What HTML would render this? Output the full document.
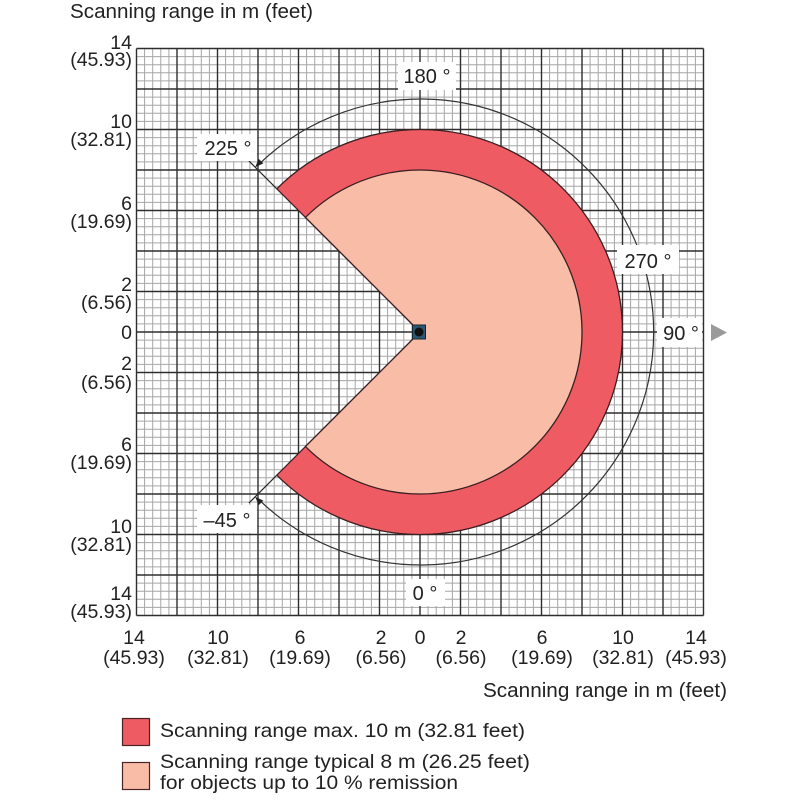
<!DOCTYPE html>
<html><head><meta charset="utf-8"><style>html,body{margin:0;padding:0;background:#fff}svg{display:block}</style></head>
<body>
<svg width="800" height="800" viewBox="0 0 800 800" xmlns="http://www.w3.org/2000/svg" font-family="'Liberation Sans', Arial, sans-serif" fill="#222">
<rect width="800" height="800" fill="#fff"/>
<!-- minor grid -->
<path fill="none" stroke="#a6a6a6" stroke-width="1" d="M144.6 48.5v567M152.7 48.5v567M160.8 48.5v567M168.9 48.5v567M185.1 48.5v567M193.2 48.5v567M201.3 48.5v567M209.4 48.5v567M225.6 48.5v567M233.7 48.5v567M241.8 48.5v567M249.9 48.5v567M266.1 48.5v567M274.2 48.5v567M282.3 48.5v567M290.4 48.5v567M306.6 48.5v567M314.7 48.5v567M322.8 48.5v567M330.9 48.5v567M347.1 48.5v567M355.2 48.5v567M363.3 48.5v567M371.4 48.5v567M387.6 48.5v567M395.7 48.5v567M403.8 48.5v567M411.9 48.5v567M428.1 48.5v567M436.2 48.5v567M444.3 48.5v567M452.4 48.5v567M468.6 48.5v567M476.7 48.5v567M484.8 48.5v567M492.9 48.5v567M509.1 48.5v567M517.2 48.5v567M525.3 48.5v567M533.4 48.5v567M549.6 48.5v567M557.7 48.5v567M565.8 48.5v567M573.9 48.5v567M590.1 48.5v567M598.2 48.5v567M606.3 48.5v567M614.4 48.5v567M630.6 48.5v567M638.7 48.5v567M646.8 48.5v567M654.9 48.5v567M671.1 48.5v567M679.2 48.5v567M687.3 48.5v567M695.4 48.5v567
M136.5 56.6h567M136.5 64.7h567M136.5 72.8h567M136.5 80.9h567M136.5 97.1h567M136.5 105.2h567M136.5 113.3h567M136.5 121.4h567M136.5 137.6h567M136.5 145.7h567M136.5 153.8h567M136.5 161.9h567M136.5 178.1h567M136.5 186.2h567M136.5 194.3h567M136.5 202.4h567M136.5 218.6h567M136.5 226.7h567M136.5 234.8h567M136.5 242.9h567M136.5 259.1h567M136.5 267.2h567M136.5 275.3h567M136.5 283.4h567M136.5 299.6h567M136.5 307.7h567M136.5 315.8h567M136.5 323.9h567M136.5 340.1h567M136.5 348.2h567M136.5 356.3h567M136.5 364.4h567M136.5 380.6h567M136.5 388.7h567M136.5 396.8h567M136.5 404.9h567M136.5 421.1h567M136.5 429.2h567M136.5 437.3h567M136.5 445.4h567M136.5 461.6h567M136.5 469.7h567M136.5 477.8h567M136.5 485.9h567M136.5 502.1h567M136.5 510.2h567M136.5 518.3h567M136.5 526.4h567M136.5 542.6h567M136.5 550.7h567M136.5 558.8h567M136.5 566.9h567M136.5 583.1h567M136.5 591.2h567M136.5 599.3h567M136.5 607.4h567"/>
<!-- major grid -->
<path fill="none" stroke="#2e2e2e" stroke-width="1.4" d="M136.5 48.5V615.5M177 48.5V615.5M217.5 48.5V615.5M258 48.5V615.5M298.5 48.5V615.5M339 48.5V615.5M379.5 48.5V615.5M420 48.5V615.5M460.5 48.5V615.5M501 48.5V615.5M541.5 48.5V615.5M582 48.5V615.5M622.5 48.5V615.5M663 48.5V615.5M703.5 48.5V615.5M136.5 48.5H703.5M136.5 89H703.5M136.5 129.5H703.5M136.5 170H703.5M136.5 210.5H703.5M136.5 251H703.5M136.5 291.5H703.5M136.5 332H703.5M136.5 372.5H703.5M136.5 413H703.5M136.5 453.5H703.5M136.5 494H703.5M136.5 534.5H703.5M136.5 575H703.5M136.5 615.5H703.5"/>

<!-- sectors -->
<path d="M420 332L276.81 188.81A202.5 202.5 0 1 1 276.81 475.19Z" fill="#ee5b63" stroke="#3a1f22" stroke-width="1.3"/>
<path d="M420 332L305.45 217.45A162 162 0 1 1 305.45 446.55Z" fill="#f9bda7" stroke="#3a1f22" stroke-width="1.3"/>
<!-- radial extensions -->
<path d="M276.81 188.81L248.9 160.9M276.81 475.19L248.9 503.1" stroke="#2a2a2a" stroke-width="1.2"/>

<!-- outer angle arc -->
<path d="M258.8 164.4A233 233 0 1 1 258.8 499.6" fill="none" stroke="#333" stroke-width="1.2"/>
<polygon points="255.24,167.24 263.3,163.4 258.6,158.7" fill="#222"/>
<polygon points="255.24,496.76 263.3,500.6 258.6,505.3" fill="#222"/>

<!-- label boxes -->
<rect x="197" y="134" width="60" height="27" fill="#fff"/>
<rect x="398" y="62" width="58" height="28" fill="#fff"/>
<rect x="617" y="245" width="62" height="29" fill="#fff"/>
<rect x="657" y="318" width="45" height="29" fill="#fff"/>
<rect x="406" y="579" width="39" height="27" fill="#fff"/>
<rect x="197" y="505" width="60" height="28" fill="#fff"/>

<g font-size="20" fill="#222">
<text x="228" y="155" text-anchor="middle">225 °</text>
<text x="427" y="83" text-anchor="middle">180 °</text>
<text x="648" y="268" text-anchor="middle">270 °</text>
<text x="681" y="340" text-anchor="middle">90 °</text>
<text x="425" y="600" text-anchor="middle">0 °</text>
<text x="227" y="527" text-anchor="middle">–45 °</text>
</g>

<polygon points="711,324 727,332.5 711,341" fill="#9a9a9a"/>

<!-- center sensor -->
<rect x="412.5" y="325" width="13" height="14" fill="#2a5874" stroke="#17242e" stroke-width="1"/>
<circle cx="419" cy="332" r="4.5" fill="#111"/>

<!-- titles -->
<text x="70" y="18" font-size="20" textLength="243" lengthAdjust="spacingAndGlyphs">Scanning range in m (feet)</text>
<text x="483" y="697" font-size="20" textLength="244" lengthAdjust="spacingAndGlyphs">Scanning range in m (feet)</text>

<!-- y labels -->
<g font-size="19.5" text-anchor="end">
<text x="132" y="49">14</text><text x="132" y="66">(45.93)</text>
<text x="132" y="128">10</text><text x="132" y="146">(32.81)</text>
<text x="132" y="210">6</text><text x="132" y="228">(19.69)</text>
<text x="132" y="291">2</text><text x="132" y="309">(6.56)</text>
<text x="132" y="339">0</text>
<text x="132" y="370">2</text><text x="132" y="389">(6.56)</text>
<text x="132" y="451">6</text><text x="132" y="469">(19.69)</text>
<text x="132" y="533">10</text><text x="132" y="551">(32.81)</text>
<text x="132" y="600">14</text><text x="132" y="618">(45.93)</text>
</g>

<!-- x labels -->
<g font-size="19.5" text-anchor="middle">
<text x="134" y="644">14</text><text x="134" y="664">(45.93)</text>
<text x="218" y="644">10</text><text x="218" y="664">(32.81)</text>
<text x="300" y="644">6</text><text x="300" y="664">(19.69)</text>
<text x="381" y="644">2</text><text x="381" y="664">(6.56)</text>
<text x="420" y="644">0</text>
<text x="461" y="644">2</text><text x="461" y="664">(6.56)</text>
<text x="542" y="644">6</text><text x="542" y="664">(19.69)</text>
<text x="623" y="644">10</text><text x="623" y="664">(32.81)</text>
<text x="696" y="644">14</text><text x="696" y="664">(45.93)</text>
</g>

<!-- legend -->
<rect x="122.5" y="718.5" width="27" height="27" fill="#ee5b63" stroke="#4a2326" stroke-width="1.2"/>
<rect x="122.5" y="762.5" width="27" height="27" fill="#f9bda7" stroke="#4a2326" stroke-width="1.2"/>
<g font-size="19.5">
<text x="160" y="737" textLength="365" lengthAdjust="spacingAndGlyphs">Scanning range max. 10 m (32.81 feet)</text>
<text x="160" y="768" textLength="370" lengthAdjust="spacingAndGlyphs">Scanning range typical 8 m (26.25 feet)</text>
<text x="160" y="789" textLength="298" lengthAdjust="spacingAndGlyphs">for objects up to 10 % remission</text>
</g>
</svg>
</body></html>
